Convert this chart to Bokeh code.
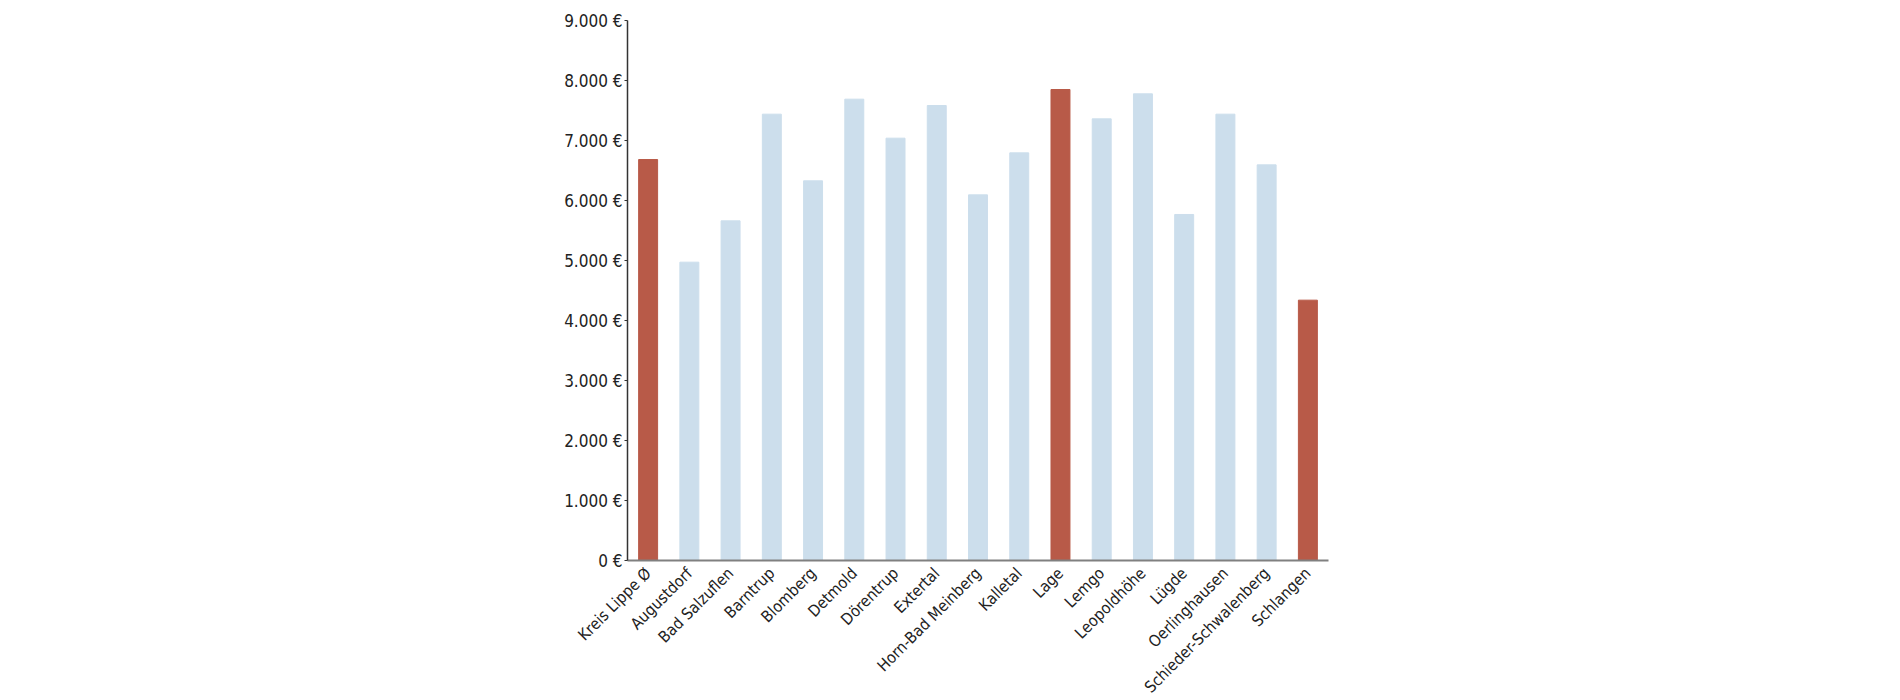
from bokeh.plotting import figure
from bokeh.models import Range1d, FixedTicker, ColumnDataSource
from bokeh.embed import file_html
from bokeh.resources import INLINE
import math

categories = ["Kreis Lippe Ø", "Augustdorf", "Bad Salzuflen", "Barntrup", "Blomberg",
              "Detmold", "Dörentrup", "Extertal", "Horn-Bad Meinberg", "Kalletal",
              "Lage", "Lemgo", "Leopoldhöhe", "Lügde", "Oerlinghausen",
              "Schieder-Schwalenberg", "Schlangen"]
values = [6683, 4972, 5661, 7439, 6328, 7689, 7039, 7583, 6094, 6794,
          7850, 7361, 7778, 5767, 7439, 6594, 4339]
highlight = [True, False, False, False, False, False, False, False, False, False,
             True, False, False, False, False, False, True]
y_ticks = [0, 1000, 2000, 3000, 4000, 5000, 6000, 7000, 8000, 9000]
y_tick_labels = ["0 €", "1.000 €", "2.000 €", "3.000 €", "4.000 €", "5.000 €",
                 "6.000 €", "7.000 €", "8.000 €", "9.000 €"]

RED = "#b85a48"
BLUE = "#ccdeec"
colors = [RED if h else BLUE for h in highlight]

src = ColumnDataSource(dict(cat=categories, val=values, color=colors))

FONT = "'DejaVu Sans Condensed', 'Open Sans', sans-serif"

p = figure(x_range=categories, frame_width=701, frame_height=540,
           output_backend="svg", toolbar_location=None,
           min_border_left=627, min_border_right=100,
           min_border_top=20, min_border_bottom=120)
p.y_range = Range1d(0, 9000)
p.x_range.range_padding = 0

p.vbar(x="cat", top="val", width=0.46, color="color", source=src)

p.grid.visible = False
p.outline_line_color = None

p.yaxis.ticker = FixedTicker(ticks=y_ticks)
p.yaxis.major_label_overrides = {t: l for t, l in zip(y_ticks, y_tick_labels)}
p.yaxis.axis_line_color = "#333333"
p.yaxis.axis_line_width = 1.5
p.yaxis.major_tick_line_color = "#333333"
p.yaxis.major_tick_out = 3
p.yaxis.major_tick_in = 0
p.yaxis.minor_tick_line_color = None
p.yaxis.major_label_standoff = 2
p.yaxis.major_label_text_font = FONT
p.yaxis.major_label_text_font_size = "17px"
p.yaxis.major_label_text_color = "#222222"

p.xaxis.axis_line_color = "#808080"
p.xaxis.axis_line_width = 2
p.xaxis.major_tick_line_color = None
p.xaxis.minor_tick_line_color = None
p.xaxis.major_label_orientation = math.pi / 4
p.xaxis.major_label_standoff = 4
p.xaxis.major_label_text_font = FONT
p.xaxis.major_label_text_font_size = "16px"
p.xaxis.major_label_text_color = "#222222"

open("out.html", "w").write(file_html(p, INLINE))
